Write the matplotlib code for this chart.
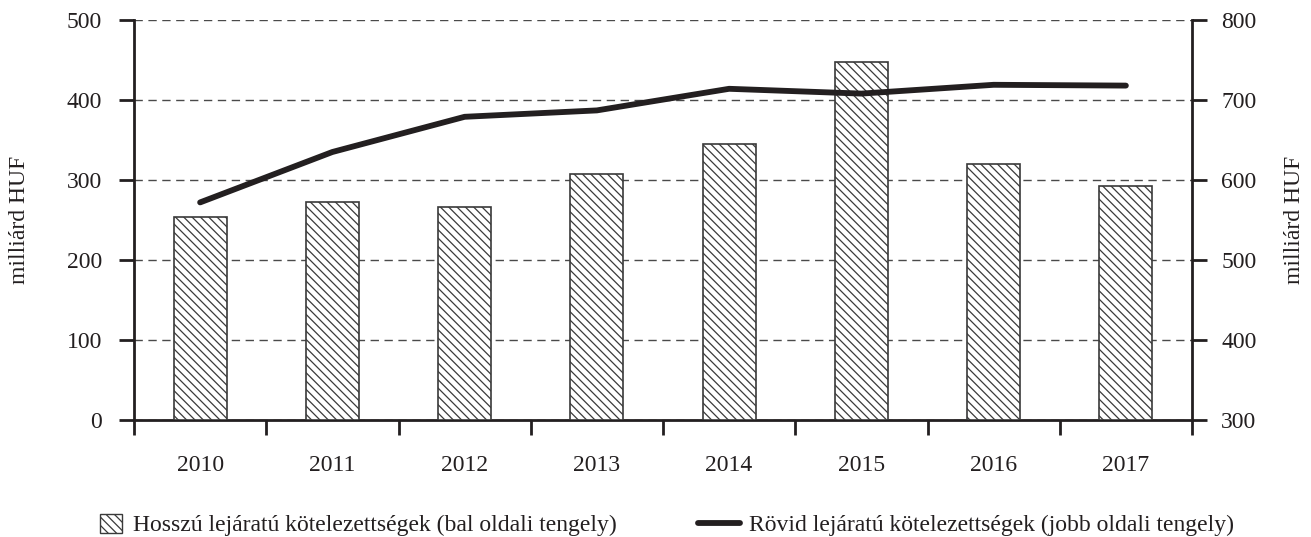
import matplotlib
matplotlib.use("Agg")
import matplotlib.pyplot as plt
from matplotlib.patches import Patch
from matplotlib.lines import Line2D
import numpy as np

years = ["2010", "2011", "2012", "2013", "2014", "2015", "2016", "2017"]
long_term = [254, 272, 266, 308, 345, 448, 320, 292]
short_term = [572, 635, 679, 687, 714, 708, 719, 718]
left_ticks = [0, 100, 200, 300, 400, 500]
right_ticks = [300, 400, 500, 600, 700, 800]
label_bar = "Hosszú lejáratú kötelezettségek (bal oldali tengely)"
label_line = "Rövid lejáratú kötelezettségek (jobb oldali tengely)"
ylabel = "milliárd HUF"

plt.rcParams['font.family'] = ['Liberation Serif', 'DejaVu Serif']
plt.rcParams['font.size'] = 17
plt.rcParams['hatch.linewidth'] = 0.9
plt.rcParams['text.color'] = '#231f20'
plt.rcParams['xtick.color'] = '#231f20'
plt.rcParams['ytick.color'] = '#231f20'

fig = plt.figure(figsize=(13.11, 5.37), dpi=100)
ax = fig.add_axes([134/1311, 1-420/537, (1192-134)/1311, 400/537])
ax2 = ax.twinx()

x = np.arange(len(years))
ax.bar(x, long_term, width=0.4, facecolor='white', edgecolor='#3a3a3a',
       linewidth=1.2, hatch='\\\\\\\\', zorder=3)
ax2.plot(x, short_term, color='#231f20', linewidth=4.2, solid_capstyle='round',
         solid_joinstyle='round', zorder=4)

ax.set_xlim(-0.5, len(years) - 0.5)
ax.set_ylim(0, 500)
ax2.set_ylim(300, 800)
ax.set_yticks(left_ticks)
ax2.set_yticks(right_ticks)

ax.set_xticks(np.arange(-0.5, len(years), 1.0))
ax.set_xticklabels([])
ax.set_xticks(x, minor=True)
ax.set_xticklabels(years, minor=True)
ax.tick_params(axis='x', which='major', direction='out', length=11, width=2)
ax.tick_params(axis='x', which='minor', length=0, pad=25)
ax.tick_params(axis='y', direction='out', length=11, width=2, pad=12)
ax2.tick_params(axis='y', direction='out', length=11, width=2, pad=10)

ax.yaxis.grid(True, color='#4a4a4a', linewidth=1.0, linestyle=(0, (6, 4)))
ax.set_axisbelow(True)

for s in ['top', 'right']:
    ax.spines[s].set_visible(False)
for s in ['top', 'left', 'bottom']:
    ax2.spines[s].set_visible(False)
for s in ['left', 'bottom']:
    ax.spines[s].set_linewidth(2)
    ax.spines[s].set_color('#231f20')
ax2.spines['right'].set_linewidth(2)
ax2.spines['right'].set_color('#231f20')

fig.text(20/1311, 1-220/537, ylabel, rotation=90, ha='center', va='center', fontsize=17)
fig.text(1295/1311, 1-220/537, ylabel, rotation=90, ha='center', va='center', fontsize=17)

h1 = Patch(facecolor='white', edgecolor='#3a3a3a', hatch='\\\\\\\\', linewidth=1.0)
h2 = Line2D([], [], color='#231f20', linewidth=4.2, solid_capstyle='round')
leg1 = fig.legend(handles=[h1], labels=[label_bar], loc='center left',
                  bbox_to_anchor=(100/1311, 1-525/537), frameon=False,
                  borderpad=0, borderaxespad=0, handlelength=0.95,
                  handleheight=0.85, handletextpad=0.45, fontsize=17)
leg2 = fig.legend(handles=[h2], labels=[label_line], loc='center left',
                  bbox_to_anchor=(698/1311, 1-525/537), frameon=False,
                  borderpad=0, borderaxespad=0, handlelength=1.8,
                  handletextpad=0.35, fontsize=17)

fig.savefig("out.png", dpi=100)
